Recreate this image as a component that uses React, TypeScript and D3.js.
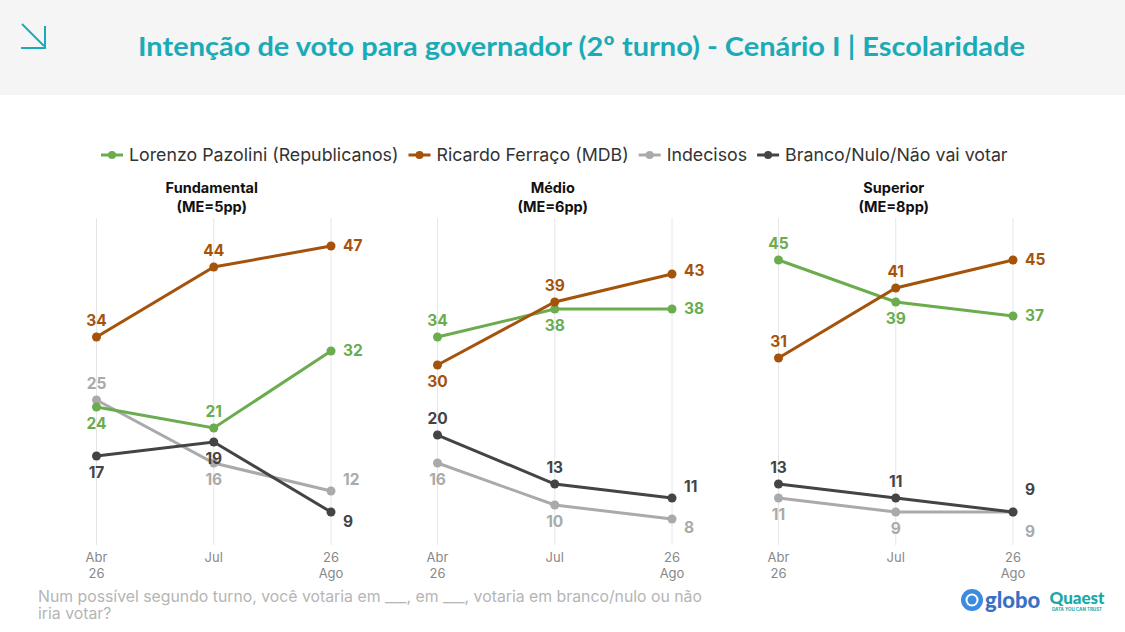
import * as d3 from "d3";
import React, { useEffect, useRef } from "react";

const months = ["Abr 26", "Jul", "26 Ago"];
const monthLines = [["Abr", "26"], ["Jul"], ["26", "Ago"]];

const panels = ["Fundamental", "Médio", "Superior"];
const margins = ["(ME=5pp)", "(ME=6pp)", "(ME=8pp)"];

const seriesNames = [
  "Lorenzo Pazolini (Republicanos)",
  "Ricardo Ferraço (MDB)",
  "Indecisos",
  "Branco/Nulo/Não vai votar",
];
const lineColors = ["#6aac4e", "#a5520a", "#aaaaaa", "#444444"];

// values per panel, per series (Abr 26, Jul, 26 Ago)
const fundamental = [[24, 21, 32], [34, 44, 47], [25, 16, 12], [17, 19, 9]];
const medio = [[34, 38, 38], [30, 39, 43], [16, 10, 8], [20, 13, 11]];
const superior = [[45, 39, 37], [31, 41, 45], [11, 9, 9], [13, 11, 9]];

// label placement: a = above, b = below, r = right (with vertical nudge)
const fundamentalPos = [["b", "a", "r0"], ["a", "a", "r0"], ["a", "b", "r-11"], ["b", "b", "r10"]];
const medioPos = [["a", "b", "r0"], ["b", "a", "r-3"], ["b", "b", "r9"], ["a", "a", "r-11"]];
const superiorPos = [["a", "b", "r0"], ["a", "a", "r0"], ["b", "b", "r20"], ["a", "a", "r-22"]];

const panelData = [fundamental, medio, superior];
const panelPos = [fundamentalPos, medioPos, superiorPos];
const panelX = [[96.5, 331], [437.5, 672], [778.5, 1013]];

const sans = "Inter, 'Open Sans', sans-serif";

export default function App() {
  const ref = useRef<SVGSVGElement>(null);

  useEffect(() => {
    const svg = d3.select(ref.current);
    svg.selectAll("*").remove();

    // header
    svg.append("rect").attr("width", 1125).attr("height", 95).attr("fill", "#f5f5f5");
    const icon = svg.append("g").attr("stroke", "#1aabb8").attr("stroke-width", 2).attr("fill", "none");
    icon.append("line").attr("x1", 22).attr("y1", 24).attr("x2", 44).attr("y2", 46);
    icon.append("polyline").attr("points", "21,48 45,48 45,26");
    svg.append("text")
      .attr("x", 138).attr("y", 56)
      .attr("textLength", 887)
      .attr("lengthAdjust", "spacingAndGlyphs")
      .attr("font-family", "Lato, sans-serif")
      .attr("font-weight", 700)
      .attr("font-size", 27)
      .attr("fill", "#1aabb8")
      .text("Intenção de voto para governador (2º turno) - Cenário I | Escolaridade");

    // legend
    const legend = svg.append("g").attr("font-family", sans).attr("font-size", 17.8).attr("fill", "#333");
    let lx = 101;
    seriesNames.forEach((name, i) => {
      const g = legend.append("g").attr("transform", `translate(${lx},155)`);
      g.append("line").attr("x1", 0).attr("x2", 22).attr("stroke", lineColors[i]).attr("stroke-width", 3);
      g.append("circle").attr("cx", 11).attr("r", 4).attr("fill", lineColors[i]);
      const t = g.append("text").attr("x", 28).attr("dy", "0.35em").text(name);
      const w = (t.node() as SVGTextElement).getComputedTextLength();
      lx += 28 + w + 10;
    });

    const y = d3.scaleLinear().domain([4.29, 51.43]).range([545, 215]);

    panelData.forEach((data, p) => {
      const x = d3.scalePoint<string>().domain(months).range(panelX[p] as [number, number]);
      const g = svg.append("g");
      const cx = (panelX[p][0] + panelX[p][1]) / 2 - 2;

      const title = g.append("text")
        .attr("text-anchor", "middle")
        .attr("font-family", sans)
        .attr("font-weight", 700)
        .attr("font-size", 14.5)
        .attr("fill", "#111");
      title.append("tspan").attr("x", cx).attr("y", 193).text(panels[p]);
      title.append("tspan").attr("x", cx).attr("y", 212).text(margins[p]);

      // vertical grid
      g.selectAll("line.grid")
        .data(months)
        .join("line")
        .attr("x1", d => x(d)!).attr("x2", d => x(d)!)
        .attr("y1", 218).attr("y2", 545)
        .attr("stroke", "#e6e6e6").attr("stroke-width", 1);

      // x tick labels
      months.forEach((m, i) => {
        const t = g.append("text")
          .attr("text-anchor", "middle")
          .attr("font-family", sans)
          .attr("font-size", 13)
          .attr("fill", "#888");
        monthLines[i].forEach((s, k) => {
          t.append("tspan").attr("x", x(m)!).attr("y", 562 + k * 15.5).text(s);
        });
      });

      const line = d3.line<number>().x((_, i) => x(months[i])!).y(v => y(v));

      // draw gray and dark first, then green and orange
      [2, 3, 0, 1].forEach(s => {
        g.append("path")
          .attr("d", line(data[s]))
          .attr("fill", "none")
          .attr("stroke", lineColors[s])
          .attr("stroke-width", 3);
        g.selectAll(`circle.s${s}`)
          .data(data[s])
          .join("circle")
          .attr("cx", (_, i) => x(months[i])!)
          .attr("cy", v => y(v))
          .attr("r", 4.5)
          .attr("fill", lineColors[s]);
      });

      data.forEach((vals, s) => {
        vals.forEach((v, i) => {
          const pos = panelPos[p][s][i];
          const px = x(months[i])!;
          const py = y(v);
          let tx = px, ty = py, anchor = "middle";
          if (pos === "a") ty = py - 16;
          else if (pos === "b") ty = py + 17;
          else {
            tx = px + 12;
            ty = py + Number(pos.slice(1));
            anchor = "start";
          }
          g.append("text")
            .attr("x", tx).attr("y", ty)
            .attr("dy", "0.35em")
            .attr("text-anchor", anchor)
            .attr("font-family", sans)
            .attr("font-weight", 700)
            .attr("font-size", 15.5)
            .attr("fill", s === 2 ? "#aaaaaa" : lineColors[s])
            .text(v);
        });
      });
    });

    // footer question
    const foot = svg.append("text")
      .attr("font-family", sans)
      .attr("font-size", 15.8)
      .attr("fill", "#b5b5b5");
    foot.append("tspan").attr("x", 38).attr("y", 602)
      .text("Num possível segundo turno, você votaria em ___, em ___, votaria em branco/nulo ou não");
    foot.append("tspan").attr("x", 38).attr("y", 619).text("iria votar?");

    // globo logo
    const globo = svg.append("g").attr("transform", "translate(972,600)");
    globo.append("circle").attr("r", 11).attr("fill", "#3d8be0");
    globo.append("circle").attr("r", 6.5).attr("fill", "#fff");
    globo.append("circle").attr("r", 4.5).attr("fill", "#3d8be0");
    globo.append("text")
      .attr("x", 13).attr("dy", "0.35em")
      .attr("font-family", "Lato, sans-serif")
      .attr("font-weight", 900)
      .attr("font-size", 22)
      .attr("fill", "#3a6fc4")
      .text("globo");

    // Quaest logo
    const q = svg.append("g").attr("transform", "translate(1077,0)");
    q.append("text")
      .attr("y", 604).attr("text-anchor", "middle")
      .attr("font-family", "Lato, sans-serif").attr("font-weight", 900)
      .attr("font-size", 17).attr("fill", "#17a9a9")
      .text("Quaest");
    q.append("text")
      .attr("y", 611).attr("text-anchor", "middle")
      .attr("font-family", sans).attr("font-weight", 700)
      .attr("font-size", 4.5).attr("fill", "#17a9a9")
      .text("DATA YOU CAN TRUST");
  }, []);

  return (
    <svg ref={ref} width={1125} height={632} style={{ position: "absolute", left: 0, top: 0, background: "#fff" }} />
  );
}
